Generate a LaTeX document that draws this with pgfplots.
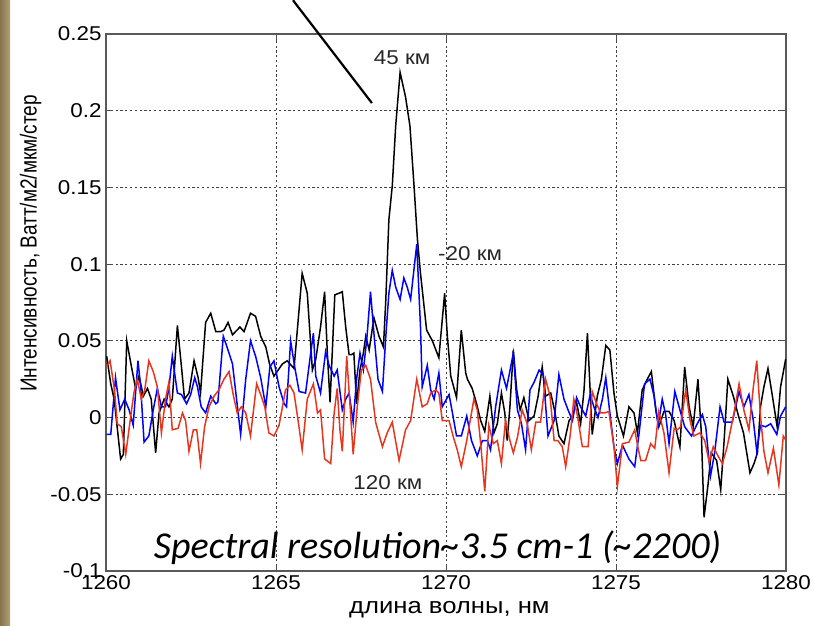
\documentclass[border=0pt]{standalone}
\usepackage{pgfplots}
\pgfplotsset{compat=1.18}
\usepackage{graphicx}
\usepackage{fontspec}
\setmainfont{Liberation Sans}
\newfontfamily\calibri{Carlito}
\definecolor{mred}{RGB}{230,55,30}
\definecolor{mblue}{RGB}{0,0,255}
\definecolor{strip}{RGB}{160,136,88}
\newcommand{\hs}[1]{\scalebox{1.12}[1]{#1}}
\begin{document}
\begin{tikzpicture}[x=1pt,y=1pt]
\fill[left color=strip!85!black, right color=strip!80!white] (0,0) rectangle (10,626);
\begin{axis}[
  at={(106pt,55pt)}, anchor=south west,
  width=680pt, height=537pt, scale only axis,
  xmin=1260, xmax=1280, ymin=-0.1, ymax=0.25,
  xtick={1260,1265,1270,1275,1280},
  xticklabels={\hs{1260},\hs{1265},\hs{1270},\hs{1275},\hs{1280}},
  ytick={-0.1,-0.05,0,0.05,0.1,0.15,0.2,0.25},
  yticklabels={\hs{-0.1},\hs{-0.05},\hs{0},\hs{0.05},\hs{0.1},\hs{0.15},\hs{0.2},\hs{0.25}},
  /pgf/number format/assume math mode=true,
  tick label style={font=\fontsize{20}{24}\selectfont},
  xticklabel style={yshift=-1pt},
  yticklabel style={xshift=-1pt},
  major tick length=7pt,
  tick style={black!70, line width=1pt},
  grid=major,
  grid style={black!75, line width=0.9pt, dash pattern=on 2.2pt off 2.6pt},
  axis line style={black!65, line width=1.3pt},
  xlabel={\scalebox{1.14}[1]{длина волны, нм}},
  ylabel={\scalebox{1}[1.22]{Интенсивность, Ватт/м2/мкм/стер}},
  xlabel style={at={(axis description cs:0.505,-0.072)}, anchor=center, font=\fontsize{22.5}{26}\selectfont},
  ylabel style={at={(axis description cs:-0.111,0.61)}, anchor=center, font=\fontsize{19}{23}\selectfont},
  clip=false,
]
\addplot[black, line width=1.5pt] coordinates {
(1260.02,0.040)(1260.14,0.022)(1260.24,0.012)(1260.43,-0.027)(1260.51,-0.024)(1260.61,0.050)(1260.75,0.033)(1260.87,0.019)(1260.97,0.027)(1261.10,0.014)(1261.22,0.019)(1261.33,0.012)(1261.46,-0.023)(1261.56,0.003)(1261.71,0.012)(1261.85,0.007)(1261.95,0.012)(1262.10,0.060)(1262.22,0.033)(1262.31,0.012)(1262.44,0.016)(1262.59,0.037)(1262.71,0.026)(1262.78,0.016)(1262.93,0.062)(1263.08,0.068)(1263.23,0.056)(1263.37,0.056)(1263.47,0.057)(1263.59,0.062)(1263.72,0.054)(1263.81,0.056)(1263.94,0.059)(1264.06,0.056)(1264.25,0.068)(1264.40,0.066)(1264.55,0.053)(1264.70,0.046)(1264.81,0.035)(1264.94,0.027)
(1265.19,0.035)(1265.33,0.037)(1265.53,0.032)(1265.77,0.094)(1265.92,0.081)(1266.07,0.031)(1266.17,0.038)(1266.31,0.059)(1266.43,0.082)(1266.51,0.042)(1266.59,0.010)(1266.73,0.080)(1266.85,0.081)(1266.95,0.082)(1267.05,0.059)(1267.15,0.041)(1267.22,0.041)(1267.29,0.042)(1267.37,0.009)(1267.47,0.031)(1267.57,0.042)(1267.64,0.053)(1267.74,0.044)(1267.88,0.065)(1268.03,0.053)(1268.16,0.046)(1268.23,0.077)(1268.32,0.129)(1268.42,0.151)(1268.52,0.190)(1268.65,0.225)(1268.81,0.209)(1268.94,0.190)(1269.06,0.151)(1269.16,0.116)(1269.25,0.094)(1269.43,0.057)(1269.60,0.050)(1269.79,0.039)(1269.96,0.081)
(1270.04,0.053)(1270.14,0.027)(1270.31,0.013)(1270.45,0.057)(1270.58,0.029)(1270.63,0.025)(1270.77,0.019)(1270.90,0.009)(1271.02,-0.002)(1271.14,-0.009)(1271.29,0.014)(1271.41,-0.010)(1271.51,-0.004)(1271.63,0.016)(1271.73,0.003)(1271.80,-0.015)(1271.88,0.007)(1271.98,0.044)(1272.08,0.018)(1272.18,0.005)(1272.29,0.013)(1272.44,-0.002)(1272.59,0.001)(1272.71,0.014)(1272.83,0.033)(1272.93,0.014)(1273.08,0.016)(1273.20,0.004)(1273.32,-0.012)(1273.47,-0.017)(1273.62,-0.002)(1273.72,0.001)(1273.84,0.010)(1273.96,-0.004)(1274.06,0.018)(1274.16,0.055)(1274.30,-0.011)(1274.45,0.014)(1274.57,0.025)(1274.70,0.047)(1274.82,0.044)(1274.94,0.016)
(1275.04,0.001)(1275.22,-0.012)(1275.38,0.007)(1275.53,0.003)(1275.63,-0.010)(1275.77,0.018)(1275.92,0.025)(1276.04,0.030)(1276.17,0.005)(1276.26,-0.006)(1276.41,0.004)(1276.56,0.004)(1276.71,-0.002)(1276.88,-0.019)(1277.02,0.033)(1277.15,0.007)(1277.27,-0.006)(1277.41,0.025)(1277.51,-0.010)(1277.59,-0.065)(1277.71,-0.043)(1277.80,-0.023)(1277.96,-0.028)(1278.08,-0.047)(1278.18,-0.015)(1278.29,0.025)(1278.45,0.014)(1278.59,0.002)(1278.75,-0.010)(1278.94,-0.036)(1279.06,-0.030)(1279.16,-0.023)(1279.25,0.007)(1279.35,0.020)(1279.47,0.032)(1279.60,0.014)(1279.74,-0.006)(1279.84,0.020)(1279.99,0.038)
};
\addplot[mblue, line width=1.5pt] coordinates {
(1260.02,-0.011)(1260.14,-0.011)(1260.28,0.026)(1260.41,0.005)(1260.55,0.012)(1260.68,0.005)(1260.80,-0.005)(1260.94,0.037)(1261.02,0.020)(1261.12,-0.016)(1261.26,-0.012)(1261.39,0.005)(1261.51,0.019)(1261.63,0.007)(1261.75,0.007)(1261.85,0.019)(1261.95,0.040)(1262.10,0.016)(1262.22,0.015)(1262.37,0.009)(1262.49,0.015)(1262.61,0.026)(1262.69,0.020)(1262.80,0.007)(1262.93,0.003)(1263.08,0.014)(1263.23,0.009)(1263.29,0.010)(1263.45,0.053)(1263.59,0.044)(1263.72,0.035)(1263.84,0.012)(1263.96,-0.011)(1264.11,0.025)(1264.25,0.050)(1264.40,0.040)(1264.55,0.026)(1264.70,0.007)(1264.82,0.033)(1264.94,0.037)
(1265.09,0.020)(1265.24,0.009)(1265.31,0.007)(1265.43,0.050)(1265.55,0.033)(1265.68,0.017)(1265.87,0.016)(1266.02,0.042)(1266.10,0.055)(1266.17,0.027)(1266.31,0.016)(1266.46,0.043)(1266.56,0.034)(1266.71,0.027)(1266.80,0.031)(1266.95,0.005)(1267.05,0.012)(1267.15,0.016)(1267.27,-0.003)(1267.37,0.025)(1267.47,0.042)(1267.57,0.031)(1267.67,0.051)(1267.78,0.082)(1267.88,0.055)(1268.00,0.025)(1268.13,0.017)(1268.23,0.053)(1268.32,0.081)(1268.42,0.096)(1268.52,0.085)(1268.65,0.077)(1268.76,0.091)(1268.86,0.085)(1268.96,0.077)(1269.14,0.113)(1269.25,0.059)(1269.30,0.020)(1269.45,0.034)(1269.55,0.018)(1269.65,0.012)(1269.79,0.029)(1269.89,0.007)
(1270.09,0.015)(1270.19,0.003)(1270.31,-0.012)(1270.45,-0.012)(1270.61,0.001)(1270.75,-0.015)(1270.92,-0.025)(1271.07,-0.015)(1271.22,-0.015)(1271.31,-0.021)(1271.46,0.007)(1271.63,0.031)(1271.78,0.019)(1271.85,0.027)(1271.98,0.042)(1272.10,0.005)(1272.22,-0.004)(1272.34,-0.021)(1272.47,0.018)(1272.59,0.023)(1272.74,0.031)(1272.86,0.028)(1273.00,-0.012)(1273.18,-0.002)(1273.32,0.028)(1273.47,0.012)(1273.59,0.005)(1273.72,-0.002)(1273.84,0.013)(1273.96,0.007)(1274.11,0.001)(1274.24,0.015)(1274.35,0.007)(1274.47,0.000)(1274.60,0.012)(1274.70,0.026)(1274.82,0.003)(1274.94,-0.019)
(1275.04,-0.030)(1275.19,-0.018)(1275.38,-0.027)(1275.55,-0.032)(1275.68,-0.010)(1275.84,0.022)(1276.00,0.025)(1276.12,0.014)(1276.24,-0.005)(1276.36,0.012)(1276.46,0.002)(1276.56,-0.017)(1276.73,0.017)(1276.88,0.005)(1277.02,-0.006)(1277.22,-0.012)(1277.39,-0.004)(1277.54,0.002)(1277.64,-0.006)(1277.78,-0.038)(1277.90,-0.023)(1278.06,0.007)(1278.18,-0.003)(1278.42,-0.003)(1278.62,0.017)(1278.76,0.007)(1278.91,0.015)(1279.04,-0.002)(1279.14,-0.022)(1279.25,-0.005)(1279.40,-0.006)(1279.55,-0.004)(1279.73,-0.011)(1279.84,0.001)(1279.99,0.007)
};
\addplot[mred, line width=1.5pt] coordinates {
(1260.02,0.033)(1260.12,0.037)(1260.25,0.018)(1260.33,-0.004)(1260.45,-0.006)(1260.58,-0.024)(1260.71,-0.002)(1260.82,0.016)(1260.92,0.025)(1261.04,0.012)(1261.14,0.018)(1261.26,0.037)(1261.39,0.030)(1261.51,0.020)(1261.63,-0.010)(1261.75,0.012)(1261.85,0.023)(1261.95,-0.008)(1262.12,-0.007)(1262.25,0.003)(1262.34,-0.002)(1262.44,-0.022)(1262.57,-0.008)(1262.67,-0.008)(1262.78,-0.030)(1262.90,-0.006)(1263.03,0.007)(1263.18,0.014)(1263.32,0.018)(1263.47,0.025)(1263.62,0.030)(1263.75,0.014)(1263.86,0.003)(1263.98,0.007)(1264.11,0.003)(1264.25,-0.012)(1264.43,0.022)(1264.55,0.015)(1264.67,0.007)(1264.79,-0.010)(1264.94,-0.012)
(1265.09,-0.005)(1265.28,0.018)(1265.41,0.021)(1265.53,0.016)(1265.65,-0.002)(1265.77,-0.021)(1265.92,0.012)(1266.10,0.022)(1266.22,0.003)(1266.31,0.005)(1266.43,-0.027)(1266.61,-0.030)(1266.71,0.003)(1266.80,0.019)(1266.88,-0.008)(1266.95,-0.022)(1267.08,0.040)(1267.18,0.007)(1267.27,-0.024)(1267.39,0.007)(1267.51,0.031)(1267.64,0.034)(1267.78,0.025)(1267.93,-0.003)(1268.13,-0.019)(1268.27,-0.010)(1268.42,-0.003)(1268.62,-0.028)(1268.81,-0.008)(1268.96,-0.002)(1269.14,0.025)(1269.30,0.007)(1269.45,0.009)(1269.55,0.016)(1269.70,0.018)(1269.79,0.016)(1269.89,-0.002)
(1270.09,-0.002)(1270.22,-0.013)(1270.33,-0.021)(1270.45,-0.032)(1270.61,-0.015)(1270.82,0.012)(1270.92,0.005)(1271.02,-0.017)(1271.14,-0.048)(1271.26,-0.005)(1271.39,-0.017)(1271.51,-0.015)(1271.63,-0.030)(1271.75,-0.002)(1271.88,-0.015)(1271.98,-0.023)(1272.10,-0.013)(1272.24,0.005)(1272.39,-0.004)(1272.51,-0.021)(1272.64,-0.003)(1272.78,-0.003)(1272.93,0.025)(1273.06,0.014)(1273.18,-0.015)(1273.29,-0.015)(1273.42,-0.019)(1273.52,-0.032)(1273.65,-0.012)(1273.76,0.012)(1273.86,0.002)(1274.01,-0.019)(1274.18,-0.019)(1274.30,0.017)(1274.43,0.009)(1274.55,0.003)(1274.67,0.003)(1274.79,0.004)(1274.94,-0.019)
(1275.04,-0.045)(1275.19,-0.017)(1275.38,-0.016)(1275.55,-0.008)(1275.65,-0.020)(1275.73,-0.028)(1275.87,-0.028)(1276.02,-0.017)(1276.14,-0.020)(1276.26,0.004)(1276.41,-0.010)(1276.56,-0.036)(1276.71,-0.007)(1276.80,-0.008)(1276.90,-0.006)(1277.05,0.018)(1277.18,-0.002)(1277.29,-0.012)(1277.47,-0.010)(1277.61,-0.015)(1277.74,-0.029)(1277.86,-0.019)(1278.00,-0.025)(1278.13,-0.030)(1278.27,-0.019)(1278.47,0.003)(1278.62,0.022)(1278.76,0.005)(1278.91,-0.008)(1279.04,0.020)(1279.14,0.037)(1279.25,0.001)(1279.35,-0.022)(1279.47,-0.036)(1279.63,-0.020)(1279.79,-0.044)(1279.92,-0.012)(1280.00,-0.015)
};
\draw[black, line width=2.2pt] (axis cs:1265.50,0.272) -- (axis cs:1267.82,0.205);
\node[font=\fontsize{20}{24}\selectfont, text=black!85] at (axis cs:1268.71,0.2346) {\hs{45 км}};
\node[font=\fontsize{20}{24}\selectfont, text=black!85] at (axis cs:1270.71,0.1068) {\hs{-20 км}};
\node[font=\fontsize{20}{24}\selectfont, text=black!85] at (axis cs:1268.29,-0.0426) {\hs{120 км}};
\node[font=\fontsize{38}{44}\selectfont\calibri\itshape, text=black] at (axis cs:1269.75,-0.0845) {Spectral resolution\textasciitilde3.5 cm-1 (\textasciitilde2200)};
\end{axis}
\pgfresetboundingbox
\useasboundingbox (0,0) rectangle (815,626);
\end{tikzpicture}
\end{document}
